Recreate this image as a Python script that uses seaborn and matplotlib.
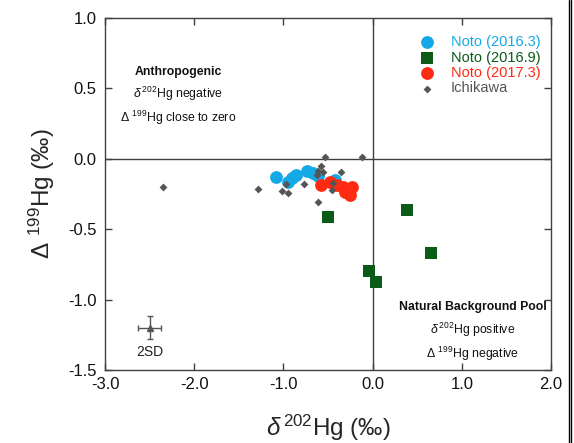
import numpy as np
import pandas as pd
import matplotlib
matplotlib.use("Agg")
import matplotlib.pyplot as plt
from matplotlib.ticker import FormatStrFormatter
from matplotlib.lines import Line2D
import seaborn as sns

# ---------------- data ----------------
noto_2016_3_x = [-1.086, -0.948, -0.904, -0.862, -0.732, -0.668, -0.612, -0.422]
noto_2016_3_y = [-0.131, -0.165, -0.136, -0.113, -0.085, -0.101, -0.122, -0.151]

noto_2016_9_x = [-0.504, 0.385, 0.660, -0.039, 0.043]
noto_2016_9_y = [-0.415, -0.364, -0.671, -0.797, -0.873]

noto_2017_3_x = [-0.578, -0.478, -0.402, -0.328, -0.272, -0.228, -0.253, -0.309]
noto_2017_3_y = [-0.186, -0.163, -0.186, -0.198, -0.222, -0.198, -0.257, -0.234]

ichikawa_x = [-2.353, -1.290, -0.534, -0.122, -0.578, -0.609, -0.553, -0.354,
              -0.627, -0.766, -0.974, -1.019, -0.952, -0.441, -0.459, -0.616]
ichikawa_y = [-0.198, -0.214, 0.011, 0.011, -0.051, -0.085, -0.092, -0.092,
              -0.115, -0.181, -0.181, -0.227, -0.245, -0.170, -0.222, -0.309]

sd_x, sd_y = -2.5, -1.2
sd_xerr, sd_yerr = 0.13, 0.08

series_names = ["Noto (2016.3)", "Noto (2016.9)", "Noto (2017.3)", "Ichikawa"]
x_ticks = [-3.0, -2.0, -1.0, 0.0, 1.0, 2.0]
y_ticks = [-1.5, -1.0, -0.5, 0.0, 0.5, 1.0]

df = pd.concat([
    pd.DataFrame({"x": noto_2016_3_x, "y": noto_2016_3_y, "group": series_names[0]}),
    pd.DataFrame({"x": noto_2016_9_x, "y": noto_2016_9_y, "group": series_names[1]}),
    pd.DataFrame({"x": noto_2017_3_x, "y": noto_2017_3_y, "group": series_names[2]}),
    pd.DataFrame({"x": ichikawa_x, "y": ichikawa_y, "group": series_names[3]}),
], ignore_index=True)

# ---------------- style ----------------
sns.set_style("ticks")
plt.rcParams["font.family"] = ["Liberation Sans", "DejaVu Sans"]
plt.rcParams["mathtext.fontset"] = "custom"
plt.rcParams["mathtext.rm"] = "Liberation Sans"
plt.rcParams["mathtext.it"] = "Liberation Sans:italic"
plt.rcParams["mathtext.bf"] = "Liberation Sans:bold"
plt.rcParams["axes.unicode_minus"] = False

colors = {series_names[0]: "#14A9E6", series_names[1]: "#0B5A16",
          series_names[2]: "#FF2A12", series_names[3]: "#555555"}
markers = {series_names[0]: "o", series_names[1]: "s",
           series_names[2]: "o", series_names[3]: "D"}
sizes = {series_names[0]: 85, series_names[1]: 70,
         series_names[2]: 85, series_names[3]: 16}

fig = plt.figure(figsize=(5.74, 4.43), dpi=100)
ax = fig.add_axes([105/574, (443-370)/443, (551-105)/574, (370-18)/443])

ax.axhline(0, color="#404040", lw=1.0, zorder=1)
ax.axvline(0, color="#404040", lw=1.0, zorder=1)

for i, name in enumerate(series_names):
    sub = df[df["group"] == name]
    sns.scatterplot(data=sub, x="x", y="y", ax=ax, color=colors[name],
                    marker=markers[name], s=sizes[name], linewidth=0,
                    label=name, zorder=3 + i)

ax.errorbar([sd_x], [sd_y], xerr=[sd_xerr], yerr=[sd_yerr], fmt="^",
            color="#555555", ms=5, elinewidth=1, capsize=2.5, capthick=1, zorder=5)
ax.text(sd_x, -1.375, "2SD", ha="center", va="center", fontsize=10, color="#222222")

ax.set_xlim(-3.0, 2.0)
ax.set_ylim(-1.5, 1.0)
ax.set_xticks(x_ticks)
ax.set_yticks(y_ticks)
ax.xaxis.set_major_formatter(FormatStrFormatter("%.1f"))
ax.yaxis.set_major_formatter(FormatStrFormatter("%.1f"))
ax.tick_params(direction="in", length=5, width=1, top=True, right=True,
               labelsize=12, color="#404040", labelcolor="#111111")
ax.tick_params(axis="x", pad=5)
ax.tick_params(axis="y", pad=6)
for sp in ax.spines.values():
    sp.set_color("#404040")
    sp.set_linewidth(1.0)

ax.set_xlabel(r"$\delta\,^{202}$Hg (‰)", fontsize=17.5, labelpad=15)
ax.set_ylabel(r"Δ $^{199}$Hg (‰)", fontsize=17.5, labelpad=8)

# annotations
ann_fs = 8.8
ax.text(-2.18, 0.62, "Anthropogenic", ha="center", va="center", fontsize=ann_fs, fontweight="bold", color="#111111")
ax.text(-2.18, 0.458, r"$\delta\,^{202}$Hg negative", ha="center", va="center", fontsize=ann_fs, color="#111111")
ax.text(-2.18, 0.29, r"Δ $^{199}$Hg close to zero", ha="center", va="center", fontsize=ann_fs, color="#111111")
ax.text(1.125, -1.053, "Natural Background Pool", ha="center", va="center", fontsize=ann_fs, fontweight="bold", color="#111111")
ax.text(1.125, -1.218, r"$\delta\,^{202}$Hg positive", ha="center", va="center", fontsize=ann_fs, color="#111111")
ax.text(1.125, -1.386, r"Δ $^{199}$Hg negative", ha="center", va="center", fontsize=ann_fs, color="#111111")

leg = ax.legend(loc="upper left", bbox_to_anchor=(0.693, 0.968), frameon=False,
                fontsize=10.5, handlelength=1.0, handletextpad=1.1,
                labelspacing=0.1, borderaxespad=0)
for txt, name in zip(leg.get_texts(), series_names):
    txt.set_color(colors[name])

# double frame line at right edge
for xx in (568.8/574, 571.3/574):
    fig.add_artist(Line2D([xx, xx], [0, 1], transform=fig.transFigure, color="black", lw=1.0))

fig.savefig("out.png", dpi=100)
